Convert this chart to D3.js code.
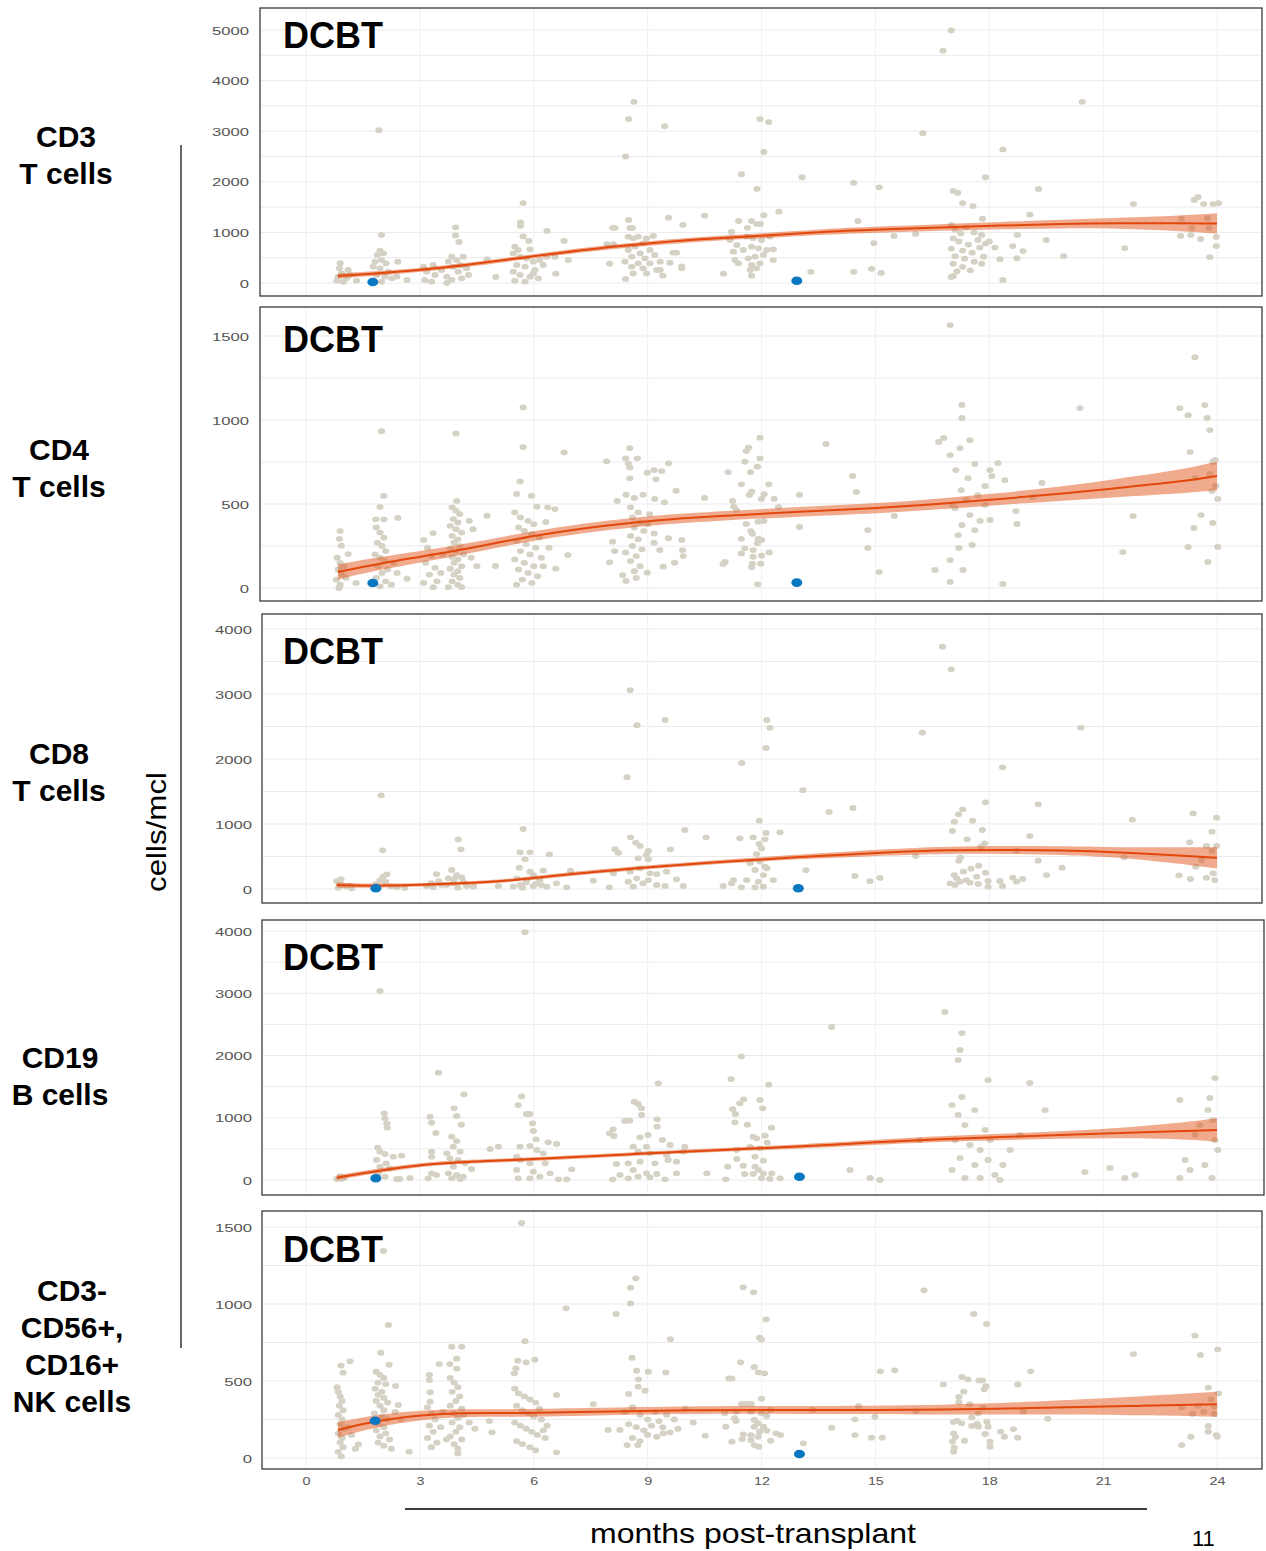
<!DOCTYPE html>
<html>
<head>
<meta charset="utf-8">
<script src="https://cdn.jsdelivr.net/npm/d3@7"></script>
<style>
  body { margin: 0; background: #fff; }
  svg { display: block; font-family: "Liberation Sans", Arial, sans-serif; }
</style>
</head>
<body>
<svg id="chart" width="1266" height="1551"></svg>
<script>
// x ticks (months post-transplant)
const monthTicks = [0, 3, 6, 9, 12, 15, 18, 21, 24];

// y ticks per panel
const cd3Ticks = [0, 1000, 2000, 3000, 4000, 5000];
const cd4Ticks = [0, 500, 1000, 1500];
const cd8Ticks = [0, 1000, 2000, 3000, 4000];
const cd19Ticks = [0, 1000, 2000, 3000, 4000];
const nkTicks = [0, 500, 1000, 1500];

const rowLabels = [
  ["CD3", "T cells"],
  ["CD4", "T cells"],
  ["CD8", "T cells"],
  ["CD19", "B cells"],
  ["CD3-", "CD56+,", "CD16+", "NK cells"]
];

// [month, cells/mcl]
const cd3Points = [
[0.81,45],[0.9,390],[0.88,290],[0.94,190],[1.11,257],[0.85,125],[1.07,93],[0.98,26],[1.16,158],[1.33,45],
[1.92,3020],[1.99,950],[1.95,640],[1.88,553],[2.04,586],[1.82,421],[1.99,454],[2.11,389],[1.77,322],[1.95,290],[2.17,223],[1.86,158],[2.08,125],[2.26,93],[1.99,26],[2.39,125],[2.42,420],[2.66,60],
[3.94,1100],[3.94,940],[4.03,810],[3.09,322],[3.18,223],[3.13,60],[3.35,356],[3.4,158],[3.31,26],[3.57,257],[3.71,125],[3.75,421],[3.84,520],[3.88,322],[3.97,454],[4.06,356],[4.14,520],[4.01,223],[3.84,60],[4.1,93],[4.23,290],[3.71,0],[4.28,158],[4.77,470],[5.0,120],
[5.72,1580],[5.65,1200],[5.65,1130],[5.72,920],[5.87,830],[6.35,1030],[6.8,830],[6.58,185],[5.5,717],[5.46,586],[5.59,652],[5.9,665],[5.64,520],[5.81,488],[5.99,421],[6.16,454],[6.34,520],[5.55,356],[5.77,322],[6.03,257],[6.25,356],[5.46,223],[5.64,158],[5.9,125],[6.12,93],[5.5,45],[5.77,26],[5.99,190],[6.56,520],[6.91,454],
[8.0,380],[7.93,770],[8.1,770],[8.08,1090],[8.14,1090],[8.42,2500],[8.5,3240],[8.64,3580],[8.5,1245],[8.54,1090],[8.6,1090],[8.42,80],[9.45,3100],[9.55,1290],[9.93,1150],[10.5,1330],[9.67,600],[9.9,330],[9.9,290],[9.4,145],
[8.49,915],[8.62,883],[8.75,915],[8.97,883],[9.15,929],[8.88,784],[8.67,717],[8.49,652],[9.06,652],[8.8,586],[9.19,553],[8.58,520],[8.93,488],[8.4,421],[8.75,389],[9.06,389],[9.33,421],[8.58,322],[8.88,290],[9.24,257],[8.62,190],[8.97,190],[9.33,257],[9.59,400],[9.76,600],
[11.0,185],[11.47,2150],[11.88,1860],[11.96,3240],[12.19,3180],[12.06,2590],[12.46,1410],[12.06,1340],[11.4,1225],[11.74,1225],[11.88,1165],[11.97,1165],[11.63,1090],[11.21,1010],
[11.17,850],[11.35,751],[11.61,915],[11.78,883],[12.0,850],[12.22,915],[11.26,619],[11.52,652],[11.74,717],[11.92,685],[12.14,652],[12.31,665],[11.3,454],[11.65,488],[11.83,520],[12.05,553],[11.39,389],[11.74,356],[11.96,389],[11.7,257],[11.87,290],[11.74,145],[12.31,454],
[13.07,2090],[14.43,1980],[15.1,1890],[16.25,2960],[16.78,4590],[17.0,4990],[18.36,2640],[17.9,2090],[19.3,1860],[20.45,3580],[21.8,1560],[21.57,690],[19.96,530],[19.5,850],[19.07,1350],[18.74,950],[18.89,630],[18.73,490],[18.62,730],[18.28,470],[18.36,60],[17.82,1270],[17.57,1520],[17.3,1580],[17.17,1780],[17.05,1820],[17.0,120],[17.05,140],[15.49,930],[16.06,970],[14.96,790],[14.9,280],[15.15,200],[14.43,220],[14.54,1225],[13.3,220],
[17.0,1150],[17.1,1050],[17.25,980],[17.4,1100],[17.6,1000],[17.8,950],[17.05,880],[17.2,820],[17.45,760],[17.7,850],[17.9,780],[17.0,680],[17.3,640],[17.55,600],[17.75,700],[17.1,530],[17.35,480],[17.6,420],[17.85,520],[17.05,380],[17.3,320],[17.5,250],[17.8,380],[17.15,230],[18.0,820],[18.15,700],
[23.4,1640],[23.5,1700],[23.65,1560],[23.9,1560],[24.04,1580],[23.06,1270],[23.34,1090],[23.04,930],[23.31,950],[23.57,870],[23.75,1280],[23.79,1090],[23.98,910],[23.98,730],[23.81,510]
];

const cd4Points = [
[0.9,339],[0.88,293],[0.93,252],[1.11,202],[1.32,30],[0.82,180],[0.9,150],[0.85,110],[0.95,80],[0.8,50],[0.9,20],[1.0,130],[0.87,0],[1.05,60],
[1.99,933],[2.05,548],[1.95,482],[1.84,409],[2.05,409],[2.42,417],[2.66,55],[1.85,360],[1.95,330],[2.05,300],[1.88,270],[2.0,250],[2.1,220],[1.82,200],[1.95,180],[2.08,160],[1.9,130],[2.15,110],[2.0,90],[1.85,60],[2.1,40],[2.25,20],[2.3,150],[2.4,90],[1.95,10],
[3.97,518],[3.35,327],[3.1,286],[3.95,920],[4.77,430],[4.99,131],[3.85,480],[3.95,460],[4.05,440],[3.88,410],[4.0,390],[3.8,370],[3.95,350],[4.1,330],[3.85,310],[4.0,290],[3.9,270],[4.05,250],[3.8,235],[3.95,220],[4.15,200],[3.85,185],[4.0,170],[3.9,150],[4.1,130],[3.8,115],[4.0,100],[3.9,80],[4.05,60],[3.85,40],[4.0,20],[4.1,5],[3.75,5],[3.2,240],[3.3,190],[3.15,150],[3.4,120],[3.25,80],[3.45,40],[3.1,30],[3.35,5],[3.6,200],[3.55,90],[4.3,400],[4.4,350],[4.35,180],[4.5,130],
[5.72,1075],[5.72,839],[6.8,807],[5.64,635],[5.55,560],[5.94,548],[6.08,484],[6.37,480],[6.56,470],[6.32,393],[6.9,196],[6.58,115],[5.5,450],[5.65,420],[5.85,400],[6.0,380],[5.6,360],[5.75,340],[5.95,320],[6.15,300],[5.55,280],[5.8,260],[6.05,240],[5.65,220],[5.9,200],[6.2,180],[5.5,170],[5.75,150],[6.0,130],[5.6,110],[5.85,90],[6.1,70],[5.7,50],[5.95,30],[5.55,20],[6.25,130],[6.4,240],
[7.92,754],[8.53,833],[8.42,772],[8.73,772],[8.49,742],[8.53,718],[8.99,686],[9.17,702],[9.37,696],[9.22,647],[9.55,742],[8.53,653],[9.75,579],[8.2,518],[8.43,555],[8.65,536],[8.88,555],[9.19,530],[9.44,510],[10.5,536],[8.08,276],[8.13,220],[8.0,153],[8.42,212],[8.34,77],[8.43,42],[8.99,91],[9.41,127],[9.71,151],[9.32,226],[9.55,296],[9.9,286],[9.92,226],[9.94,190],[9.17,325],[9.17,270],[8.55,480],[8.75,450],[8.6,420],[8.8,390],[8.65,360],[8.9,340],[8.55,310],[8.75,290],[8.6,250],[8.85,230],[8.7,190],[8.55,160],[8.8,130],[8.65,100],[9.0,380],[9.05,440],[8.7,60],
[10.99,143],[11.04,155],[11.12,690],[11.56,752],[11.66,835],[11.6,815],[11.96,895],[11.96,772],[11.89,722],[11.71,690],[11.47,617],[12.19,617],[11.74,573],[11.68,554],[12.07,558],[12.0,530],[12.33,530],[12.45,482],[11.24,518],[11.27,484],[11.34,464],[11.6,381],[11.91,395],[12.06,399],[11.72,339],[11.76,323],[11.47,293],[11.91,292],[12.0,286],[11.89,266],[11.56,236],[11.78,226],[11.47,206],[12.2,212],[11.78,186],[12.0,192],[11.76,145],[11.98,145],[11.74,124],[11.9,22],
[13.0,554],[13.0,363],[13.7,857],[14.4,667],[14.5,571],[14.8,238],[15.1,95],[15.5,429],[14.8,345],
[16.67,869],[16.97,1565],[16.8,893],[16.97,791],[17.28,1012],[17.23,833],[17.12,702],[17.44,654],[17.62,738],[17.89,607],[18.23,744],[18.07,666],[17.26,583],[17.02,494],[17.49,434],[17.28,375],[17.76,399],[18.02,405],[17.62,345],[17.2,238],[16.97,36],[17.31,107],[18.36,24],[18.73,381],[18.7,458],[19.15,541],[19.39,625],[20.39,1071],[21.52,214],[21.79,428],[17.1,476],[17.39,524],[17.7,553],[17.89,494],[17.18,315],[17.55,256],[18.02,702],[18.41,642],[17.49,880],[17.28,1090],[16.97,166],[16.57,107],
[23.02,1071],[23.24,1029],[23.68,1089],[23.74,1012],[23.81,940],[23.42,1374],[23.29,809],[23.42,654],[23.81,678],[23.89,750],[23.87,577],[23.97,607],[24.02,530],[23.58,434],[23.89,387],[23.39,357],[23.24,244],[24.02,244],[23.76,155],[23.95,762]
];

const cd8Points = [
[1.98,1441],[2.02,595],[2.13,226],[1.95,138],[2.03,189],[1.85,80],[2.1,110],[2.25,40],[1.9,20],[2.4,30],[2.6,15],
[0.81,120],[0.88,90],[0.95,60],[1.05,40],[0.85,20],[1.15,50],[0.92,150],[1.2,10],
[4.01,765],[4.08,611],[3.44,230],[3.84,292],[3.97,215],[3.75,164],[4.15,112],[3.57,62],[3.88,88],[4.23,46],[3.18,46],[3.35,26],[4.41,35],[5.07,46],[3.5,120],[3.7,60],[4.0,20],[3.3,90],[3.9,150],[4.1,180],
[5.72,923],[5.64,565],[5.9,565],[5.77,457],[6.41,534],[5.62,327],[5.9,266],[6.25,282],[5.99,215],[5.55,164],[5.81,138],[6.16,138],[6.6,88],[5.64,62],[5.99,46],[6.34,35],[6.87,26],[5.46,35],[6.97,282],[7.57,128],[7.99,26],[5.8,100],[6.05,80],[5.7,20],[6.2,60],
[8.55,795],[8.69,712],[8.8,662],[8.14,615],[8.23,558],[9.02,585],[8.97,523],[8.75,472],[9.02,457],[9.6,611],[9.98,908],[10.54,795],[8.54,3060],[8.72,2520],[9.46,2600],[8.46,1720],[8.1,241],[8.54,266],[8.8,318],[9.06,241],[9.24,230],[9.5,266],[8.71,164],[9.02,138],[8.49,112],[8.88,88],[9.24,62],[9.76,149],[9.94,46],[9.46,46],[8.62,35],
[11.48,1940],[12.14,2600],[12.22,2480],[12.12,2170],[11.94,1051],[11.43,780],[11.78,795],[12.12,862],[12.09,765],[12.49,872],[11.94,692],[12.0,626],[11.87,538],[11.7,395],[11.96,420],[12.09,343],[11.83,292],[12.05,215],[11.26,138],[11.61,138],[11.92,112],[12.31,138],[10.99,46],[11.47,26],[11.83,26],[12.05,35],[11.21,88],[12.14,318],
[13.09,1520],[13.78,1185],[14.41,1246],[13.17,290],[14.46,200],[14.86,120],[15.12,170],
[16.77,3728],[17.0,3380],[16.24,2405],[20.41,2482],[18.35,1872],[17.9,1333],[19.29,1302],[17.3,1226],[17.19,1149],[17.08,1036],[17.56,1051],[17.03,892],[17.82,908],[17.42,765],[17.88,703],[17.78,651],[19.07,815],[21.77,1066],[23.37,1163],[23.99,1097],[23.87,882],[23.28,718],[23.72,662],[23.99,662],[23.87,585],[16.06,508],[18.72,585],[19.29,435],[19.51,215],[19.92,328],[21.55,487],[17.24,487],[17.2,435],[23.44,343],[23.59,446],[23.0,210],[23.3,154],[23.72,172],[23.9,241],[23.94,138],[18.28,123],[18.35,46],[18.62,174],[18.72,112],[18.88,154],
[17.08,215],[17.32,266],[17.52,312],[17.72,358],[17.9,251],[17.14,164],[17.4,138],[17.67,189],[16.97,88],[17.1,62],[17.49,97],[17.71,77],[17.97,123],[17.97,35],[17.23,112]
];

const cd19Points = [
[1.95,3036],[5.77,3980],[13.85,2458],[16.83,2700],[17.28,2360],
[0.81,16],[0.94,16],[0.9,60],[1.0,30],
[2.06,1071],[2.08,991],[2.13,911],[2.14,840],[1.89,519],[1.95,455],[2.08,418],[2.3,375],[2.52,390],[1.86,321],[2.11,268],[1.95,214],[2.21,187],[2.39,16],[2.47,16],[2.74,32],[1.9,107],[2.08,53],
[3.49,1724],[4.16,1376],[3.9,1151],[3.97,1028],[4.09,888],[3.42,755],[3.27,1017],[3.31,920],[3.84,696],[3.97,626],[3.71,428],[3.88,535],[4.06,455],[3.79,348],[4.01,321],[4.19,268],[3.88,214],[4.36,177],[3.75,107],[3.97,80],[4.14,53],[3.84,27],[4.06,16],[3.31,455],[3.31,375],[3.44,80],[3.22,27],[3.31,107],
[5.68,1344],[5.59,1204],[5.81,1060],[5.9,1060],[5.97,910],[5.99,787],[6.06,654],[6.38,605],[6.6,578],[4.85,498],[5.07,535],[5.64,535],[5.9,546],[5.55,375],[6.08,482],[6.25,428],[5.64,321],[5.9,268],[6.3,268],[5.55,161],[5.99,134],[6.43,107],[5.59,27],[5.9,27],[6.16,53],[6.65,11],[6.87,11],[7.0,172],
[9.28,1553],[8.65,1258],[8.75,1221],[8.84,1151],[8.84,1044],[8.53,953],[8.4,948],[8.09,814],[8.0,750],[8.11,707],[9.25,975],[9.25,856],[9.01,723],[8.8,686],[9.39,643],[8.62,535],[8.97,535],[9.59,562],[9.98,535],[8.75,455],[9.06,428],[9.5,401],[9.76,294],[9.54,321],[9.94,455],[8.18,257],[8.49,268],[8.8,294],[9.19,268],[8.62,161],[8.97,107],[9.24,96],[9.76,107],[8.27,80],[8.75,53],[8.49,27],[9.06,43],[8.08,11],[9.46,11],[10.56,107],
[11.47,1987],[11.2,1622],[12.19,1531],[11.53,1296],[11.43,1232],[11.96,1285],[12.03,1151],[11.24,1140],[11.31,1060],[11.3,927],[11.63,888],[12.26,840],[11.78,696],[12.09,712],[11.87,669],[12.15,600],[11.7,535],[11.96,509],[11.35,482],[11.83,375],[12.05,310],[11.11,214],[11.35,337],[11.52,230],[11.83,214],[11.92,161],[11.56,96],[11.78,96],[12.05,107],[12.27,107],[12.0,27],[12.22,16],[12.49,27],[11.06,11],
[17.23,2088],[17.18,1927],[17.28,1333],[17.97,1606],[19.07,1558],[19.47,1124],[18.81,723],
[17.02,1204],[17.18,1044],[17.36,883],[17.62,1124],[17.89,803],[17.1,642],[17.49,562],[17.76,482],[18.02,642],[17.23,353],[17.62,241],[17.97,321],[17.02,161],[17.36,32],[17.76,32],[18.15,80],[18.36,241],[18.55,482],[18.28,0],
[14.86,32],[15.12,0],[14.33,161],[16.17,642],[20.52,128],[21.18,193],[21.57,32],[21.84,80],
[23.95,1638],[23.81,1317],[23.89,964],[23.55,883],[24.02,482],[23.29,161],[23.02,1285],[23.76,1124],[23.42,723],[23.95,642],[23.16,321],[23.68,241],[23.87,32],[23.02,32]
];

const nkPoints = [
[5.68,1526],[2.04,1344],[2.17,864],[6.85,972],[8.69,1167],[8.55,1106],[8.55,1004],[8.17,935],[9.6,771],[8.59,651],[5.77,758],[1.16,628],[0.98,554],[1.97,684],[2.19,606],[2.36,468],[2.43,344],[3.25,539],[3.25,506],[3.51,610],[3.79,610],[3.97,580],[3.84,723],[4.1,723],[3.97,645],[3.27,427],[3.27,366],[5.58,632],[5.8,621],[6.03,638],[5.53,582],[5.49,550],[6.6,409],[7.57,350],[8.71,567],[9.02,560],[8.76,511],[9.48,556],[8.5,416],[8.75,463],[8.93,437],[7.96,182],[8.27,182],[8.46,84],[8.74,84],[9.24,138],[9.41,160],[9.59,167],[6.6,37],[4.9,167],[4.83,240],[2.72,41],[1.38,89],
[0.85,430],[0.9,400],[0.95,370],[0.88,340],[0.98,310],[0.85,280],[0.95,250],[0.9,220],[1.0,190],[0.85,160],[0.95,130],[0.9,100],[0.98,70],[0.85,40],[0.93,10],[1.1,200],[1.2,150],[1.3,60],[0.82,460],[0.92,600],
[1.85,560],[1.95,540],[2.05,520],[1.9,490],[2.1,480],[1.82,450],[2.0,430],[1.9,410],[2.05,390],[1.85,370],[2.15,360],[1.95,340],[2.05,310],[1.8,290],[2.0,270],[2.15,250],[1.9,220],[2.05,200],[1.85,180],[2.1,160],[1.95,140],[2.2,120],[1.9,100],[2.05,80],[2.25,60],[2.35,300],[2.5,250],
[3.2,330],[3.3,290],[3.4,250],[3.25,210],[3.35,170],[3.2,130],[3.45,100],[3.3,70],[3.6,300],[3.55,200],[3.7,120],[3.8,520],[3.9,490],[4.0,460],[3.85,430],[4.05,400],[3.95,370],[3.8,340],[4.1,320],[3.9,290],[4.0,260],[3.85,230],[4.05,200],[3.95,170],[3.8,140],[4.1,120],[3.9,90],[4.0,60],[4.15,280],[4.3,230],[4.45,190],[4.0,30],
[5.5,450],[5.6,420],[5.75,400],[5.9,380],[6.05,360],[5.55,340],[5.7,310],[5.85,290],[6.0,270],[6.2,250],[5.5,230],[5.65,210],[5.8,190],[5.95,170],[6.1,150],[6.3,130],[5.55,110],[5.7,90],[5.9,70],[6.05,50],[6.25,180],[6.35,210],[6.15,320],
[8.4,300],[8.6,330],[8.8,280],[9.0,250],[9.2,300],[8.5,220],[8.7,200],[8.9,180],[9.1,210],[9.3,240],[9.5,280],[9.7,250],[8.6,130],[8.8,110],[9.0,150],[9.4,200],[9.8,190],[10.0,320],[10.2,230],
[11.52,1108],[11.79,1076],[12.12,900],[11.95,781],[12.0,771],[11.45,621],[11.81,591],[11.92,556],[12.08,550],[11.22,517],[11.14,517],[12.0,385],[11.48,351],[11.6,351],[11.73,351],
[11.03,290],[11.33,301],[11.72,301],[12.0,290],[12.14,273],[12.24,312],[11.29,258],[11.33,240],[11.81,247],[11.91,225],[11.81,203],[12.05,203],[11.06,203],[12.14,177],[11.95,171],[11.52,154],[11.72,149],[11.91,138],[11.49,123],[11.72,117],[12.38,160],[12.5,149],[12.24,112],[11.22,106],[11.81,84],[11.93,73],[10.52,145],
[13.1,95],[13.35,312],[13.85,197],[14.46,251],[14.56,338],[14.46,149],[14.99,268],[14.9,132],[15.18,132],[15.13,563],[15.51,569],[16.28,1089],[16.07,303],[16.79,478],[17.28,526],[17.44,511],[17.73,504],[17.82,504],[17.33,431],[17.2,396],[17.91,466],[17.87,446],[17.59,935],[17.93,870],[18.75,478],[19.09,563],[18.9,301],[19.54,255],[21.8,675],[23.42,794],[23.56,669],[24.02,706],[23.77,457],[24.04,420],[23.84,381],
[17.2,362],[17.49,349],[17.84,327],[17.71,290],[17.54,264],[17.15,242],[17.06,234],[17.27,225],[17.68,223],[17.94,236],[17.54,208],[17.71,203],[17.97,203],[17.06,160],[17.11,138],[17.35,112],[17.89,156],[17.03,106],[17.08,67],[17.06,41],[18.02,106],[18.02,73],[18.3,171],[18.4,138],[18.64,188],[18.75,132],
[23.07,329],[23.5,340],[23.36,286],[23.65,301],[23.93,286],[23.93,333],[23.77,208],[23.77,171],[23.31,138],[23.07,84],[23.98,149],[24.01,138]
];

// highlighted (blue) patients
const cd3Blue = [[1.76,20],[12.93,45]];
const cd4Blue = [[1.76,30],[12.93,32]];
const cd8Blue = [[1.84,11],[12.97,11]];
const cd19Blue = [[1.84,27],[13.0,53]];
const nkBlue = [[1.82,242],[13.0,26]];

// smoothed fit: [month, fit, half-width of band]
const cd3Fit = [[0.84,140,50],[1.76,180,45],[3.0,257,40],[4.06,336,40],[5.65,494,40],[7.2,650,45],[8.8,770,45],[10.4,870,45],[12,930,50],[13.5,1008,55],[15.1,1057,60],[16.7,1097,65],[18.3,1136,70],[19.9,1166,85],[21.4,1186,105],[23,1180,150],[24,1176,200]];
const cd4Fit = [[0.84,95,45],[1.76,140,38],[4.23,230,30],[5.98,315,28],[8.61,395,28],[10.82,428,28],[13.01,454,28],[15.12,475,30],[16.7,500,32],[18.28,530,35],[19.86,560,42],[21.44,597,55],[23.02,632,70],[24,667,85]];
const cd8Fit = [[0.81,62,40],[1.84,42,30],[4.23,85,25],[5.55,138,25],[6.87,226,30],[8.62,318,30],[10.38,395,30],[13.01,497,35],[15.65,574,50],[16.9,598,55],[18.5,603,60],[20.0,592,65],[21.0,572,75],[22.0,548,95],[23.0,515,125],[24.0,480,165]];
const cd19Fit = [[0.81,37,40],[1.84,145,35],[3.18,257,30],[4.23,294,30],[5.98,332,30],[8.62,418,30],[11.25,493,30],[13.01,535,35],[15.12,610,40],[16.7,659,45],[18.28,690,50],[19.86,723,60],[21.44,755,80],[23.02,787,130],[24.0,803,190]];
const nkFit = [[0.84,182,50],[1.82,242,40],[3.1,279,30],[3.97,294,25],[5.72,290,25],[7.48,301,25],[10.12,312,25],[12.6,312,25],[17.05,312,30],[19.9,329,45],[21.9,338,60],[24.0,349,81]];

const pointSets = [cd3Points, cd4Points, cd8Points, cd19Points, nkPoints];
const blueSets = [cd3Blue, cd4Blue, cd8Blue, cd19Blue, nkBlue];
const fitSets = [cd3Fit, cd4Fit, cd8Fit, cd19Fit, nkFit];
const tickSets = [cd3Ticks, cd4Ticks, cd8Ticks, cd19Ticks, nkTicks];

// layout of the five stacked panels (pixels)
const frames = [
  {left: 260, right: 1262, top: 8,    bottom: 296,  y0: 283,  yTop: 30,   axisX: 249, dcbt: 48,   label: 66, base: 147},
  {left: 260, right: 1262, top: 307,  bottom: 601,  y0: 588,  yTop: 336,  axisX: 249, dcbt: 352,  label: 59, base: 460},
  {left: 262, right: 1262, top: 614,  bottom: 903,  y0: 889,  yTop: 629,  axisX: 252, dcbt: 664,  label: 59, base: 764},
  {left: 262, right: 1264, top: 920,  bottom: 1195, y0: 1180, yTop: 931,  axisX: 252, dcbt: 970,  label: 60, base: 1068},
  {left: 262, right: 1262, top: 1211, bottom: 1469, y0: 1458, yTop: 1227, axisX: 252, dcbt: 1262, label: 72, base: 1301}
];

const svg = d3.select('#chart');
const x = d3.scaleLinear().domain([0, 24]).range([306, 1217]);

frames.forEach(function(f, i) {
  const ticks = tickSets[i];
  const step = ticks[1] - ticks[0];
  const y = d3.scaleLinear().domain([0, d3.max(ticks)]).range([f.y0, f.yTop]);
  const g = svg.append('g');

  // grid
  const hLines = d3.range(-step / 2, d3.max(ticks) + step, step / 2)
    .filter(v => y(v) > f.top + 1 && y(v) < f.bottom - 1);
  g.selectAll('line.h').data(hLines).enter().append('line')
    .attr('x1', f.left).attr('x2', f.right)
    .attr('y1', d => y(d)).attr('y2', d => y(d))
    .attr('stroke', '#ebebeb').attr('stroke-width', 1);
  g.selectAll('line.v').data(monthTicks).enter().append('line')
    .attr('x1', d => x(d)).attr('x2', d => x(d))
    .attr('y1', f.top).attr('y2', f.bottom)
    .attr('stroke', '#f0f0f0').attr('stroke-width', 1);

  // y axis labels
  const ax = g.append('g')
    .attr('transform', 'translate(' + f.axisX + ',0)')
    .call(d3.axisLeft(y).tickValues(ticks).tickFormat(d3.format('d')).tickSize(0).tickPadding(0));
  ax.select('.domain').remove();
  ax.selectAll('text')
    .attr('font-size', 11.5)
    .attr('font-family', '"Liberation Sans", Arial, sans-serif')
    .attr('fill', '#555')
    .attr('dy', '0.36em')
    .attr('transform', 'scale(1.45,1)');

  // grey points
  g.selectAll('ellipse.pt').data(pointSets[i]).enter().append('ellipse')
    .attr('cx', d => x(d[0])).attr('cy', d => y(d[1]))
    .attr('rx', 3.6).attr('ry', 2.9)
    .attr('fill', '#d5d2c5');

  // confidence band and fit line
  const fit = fitSets[i];
  const area = d3.area()
    .x(d => x(d[0]))
    .y0(d => y(d[1] - d[2]))
    .y1(d => y(d[1] + d[2]))
    .curve(d3.curveBasis);
  const line = d3.line()
    .x(d => x(d[0]))
    .y(d => y(d[1]))
    .curve(d3.curveBasis);
  g.append('path').attr('d', area(fit))
    .attr('fill', '#e2581e').attr('fill-opacity', 0.5);
  g.append('path').attr('d', line(fit))
    .attr('fill', 'none').attr('stroke', '#e2470c').attr('stroke-width', 2);

  // blue points
  g.selectAll('ellipse.blue').data(blueSets[i]).enter().append('ellipse')
    .attr('cx', d => x(d[0])).attr('cy', d => y(d[1]))
    .attr('rx', 5.5).attr('ry', 4.3)
    .attr('fill', '#0a78c0');

  // frame
  g.append('rect')
    .attr('x', f.left).attr('y', f.top)
    .attr('width', f.right - f.left).attr('height', f.bottom - f.top)
    .attr('fill', 'none').attr('stroke', '#3a3a3a').attr('stroke-width', 1.3);

  g.append('text')
    .attr('x', 283).attr('y', f.dcbt)
    .attr('font-size', 36).attr('font-weight', 'bold')
    .attr('fill', '#000')
    .text('DCBT');

  // row label on the left
  const lab = svg.append('text')
    .attr('x', f.label).attr('y', f.base)
    .attr('text-anchor', 'middle')
    .attr('font-size', 30).attr('font-weight', 'bold')
    .attr('fill', '#000');
  rowLabels[i].forEach(function(t, k) {
    lab.append('tspan').attr('x', f.label).attr('dy', k === 0 ? 0 : 37).text(t);
  });
});

// x axis under the last panel
const xa = svg.append('g')
  .attr('transform', 'translate(0,1474)')
  .call(d3.axisBottom(x).tickValues(monthTicks).tickSize(0).tickPadding(0));
xa.select('.domain').remove();
xa.selectAll('text')
  .attr('font-size', 11.5)
  .attr('font-family', '"Liberation Sans", Arial, sans-serif')
  .attr('fill', '#555')
  .attr('y', 11).attr('dy', 0)
  .attr('transform', 'scale(1.25,1)');

// decoration lines and titles
svg.append('line')
  .attr('x1', 181).attr('x2', 181).attr('y1', 145).attr('y2', 1348)
  .attr('stroke', '#000').attr('stroke-width', 1.2);
svg.append('line')
  .attr('x1', 405).attr('x2', 1147).attr('y1', 1509).attr('y2', 1509)
  .attr('stroke', '#000').attr('stroke-width', 1.3);

svg.append('text')
  .attr('transform', 'translate(166,832) rotate(-90)')
  .attr('text-anchor', 'middle')
  .attr('font-size', 28)
  .attr('textLength', 120).attr('lengthAdjust', 'spacingAndGlyphs')
  .text('cells/mcl');

svg.append('text')
  .attr('x', 590).attr('y', 1543)
  .attr('font-size', 28)
  .attr('textLength', 326).attr('lengthAdjust', 'spacingAndGlyphs')
  .text('months post-transplant');

svg.append('text')
  .attr('x', 1192).attr('y', 1546)
  .attr('font-size', 22)
  .text('11');
</script>
</body>
</html>
